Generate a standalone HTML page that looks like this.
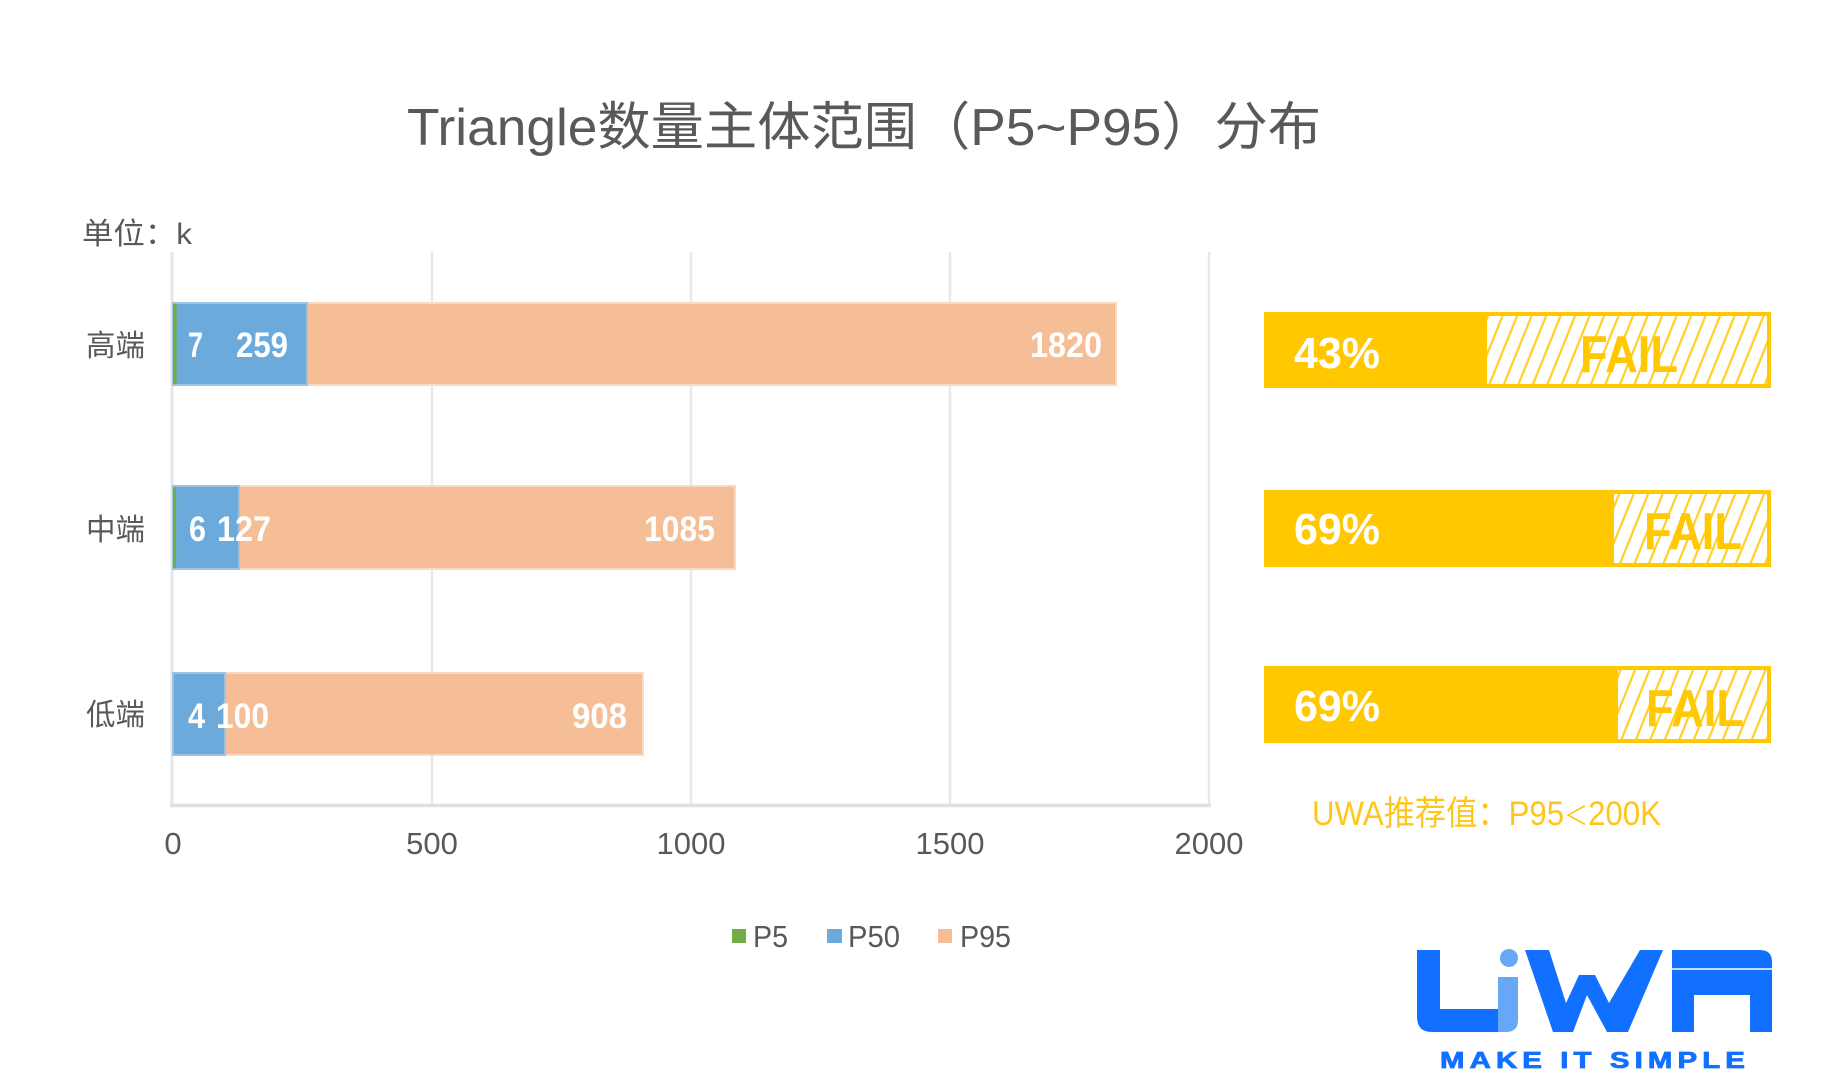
<!DOCTYPE html>
<html>
<head>
<meta charset="utf-8">
<style>
  html,body{margin:0;padding:0;background:#fff;}
  body{width:1830px;height:1090px;overflow:hidden;}
  svg{display:block;}
  .lat{font-family:"Liberation Sans","Noto Sans CJK SC",sans-serif;}
</style>
</head>
<body>
<svg width="1830" height="1090" viewBox="0 0 1830 1090" xmlns="http://www.w3.org/2000/svg">
  <defs>
    <pattern id="hatch" patternUnits="userSpaceOnUse" width="14.5" height="80" patternTransform="skewX(-22)">
      <rect x="0" y="0" width="14.5" height="80" fill="#ffffff"/>
      <rect x="5" y="0" width="2.4" height="80" fill="#FFC800" opacity="0.85"/>
    </pattern>
  </defs>
  <rect width="1830" height="1090" fill="#ffffff"/>

  <!-- Title -->
  <text class="lat" x="407" y="145" font-size="52" fill="#595959" textLength="914" lengthAdjust="spacingAndGlyphs">Triangle数量主体范围（P5~P95）分布</text>

  <!-- Unit -->
  <text class="lat" x="82" y="244" font-size="30" fill="#595959" textLength="110" lengthAdjust="spacingAndGlyphs">单位：k</text>

  <!-- Gridlines -->
  <g stroke="#e8e8e8" stroke-width="2.5">
    <line x1="432" y1="252" x2="432" y2="805"/>
    <line x1="691" y1="252" x2="691" y2="805"/>
    <line x1="950" y1="252" x2="950" y2="805"/>
    <line x1="1209" y1="252" x2="1209" y2="805"/>
  </g>
  <line x1="172" y1="252" x2="172" y2="806" stroke="#e6e6e6" stroke-width="3"/>
  <line x1="170" y1="805.5" x2="1211" y2="805.5" stroke="#e0e0e0" stroke-width="3.5"/>

  <!-- Category labels -->
  <g class="lat" font-size="30" fill="#595959">
    <text x="86" y="356" textLength="59" lengthAdjust="spacingAndGlyphs">高端</text>
    <text x="86" y="540" textLength="59" lengthAdjust="spacingAndGlyphs">中端</text>
    <text x="86" y="725" textLength="59" lengthAdjust="spacingAndGlyphs">低端</text>
  </g>

  <!-- Bars: high -->
  <rect x="173" y="303" width="943" height="82" fill="#F5BE97" stroke="#FAD9C3" stroke-width="2"/>
  <rect x="173" y="303" width="134" height="82" fill="#6CAADC" stroke="#9DC3E2" stroke-width="2"/>
  <rect x="173" y="304" width="3.6" height="80" fill="#70AD47"/>
  <!-- Bars: mid -->
  <rect x="173" y="486" width="562" height="83" fill="#F5BE97" stroke="#FAD9C3" stroke-width="2"/>
  <rect x="173" y="486" width="66" height="83" fill="#6CAADC" stroke="#9DC3E2" stroke-width="2"/>
  <rect x="173" y="487" width="3.1" height="81" fill="#70AD47"/>
  <!-- Bars: low -->
  <rect x="173" y="673" width="470" height="82" fill="#F5BE97" stroke="#FAD9C3" stroke-width="2"/>
  <rect x="173" y="673" width="52" height="82" fill="#6CAADC" stroke="#9DC3E2" stroke-width="2"/>

  <!-- Bar labels -->
  <g class="lat" font-size="35" font-weight="bold" fill="#ffffff">
    <text x="188" y="357" textLength="15" lengthAdjust="spacingAndGlyphs">7</text>
    <text x="236" y="357" textLength="52" lengthAdjust="spacingAndGlyphs">259</text>
    <text x="1030" y="357" textLength="72" lengthAdjust="spacingAndGlyphs">1820</text>

    <text x="189" y="541" textLength="17" lengthAdjust="spacingAndGlyphs">6</text>
    <text x="217" y="541" textLength="54" lengthAdjust="spacingAndGlyphs">127</text>
    <text x="644" y="541" textLength="71" lengthAdjust="spacingAndGlyphs">1085</text>

    <text x="188" y="728" textLength="17" lengthAdjust="spacingAndGlyphs">4</text>
    <text x="216" y="728" textLength="53" lengthAdjust="spacingAndGlyphs">100</text>
    <text x="572" y="728" textLength="55" lengthAdjust="spacingAndGlyphs">908</text>
  </g>

  <!-- X tick labels -->
  <g class="lat" font-size="31" fill="#595959" text-anchor="middle">
    <text x="173" y="854">0</text>
    <text x="432" y="854">500</text>
    <text x="691" y="854">1000</text>
    <text x="950" y="854">1500</text>
    <text x="1209" y="854">2000</text>
  </g>

  <!-- Legend -->
  <rect x="732" y="929" width="14" height="14" fill="#70AD47"/>
  <rect x="827" y="929" width="15" height="14" fill="#6CAADC"/>
  <rect x="938" y="929" width="14" height="14" fill="#F5BE97"/>
  <g class="lat" font-size="31" fill="#595959">
    <text x="753" y="947" textLength="35" lengthAdjust="spacingAndGlyphs">P5</text>
    <text x="848" y="947" textLength="52" lengthAdjust="spacingAndGlyphs">P50</text>
    <text x="960" y="947" textLength="51" lengthAdjust="spacingAndGlyphs">P95</text>
  </g>

  <!-- FAIL box 1 -->
  <rect x="1266" y="314" width="503" height="72" fill="#ffffff" stroke="#FFC800" stroke-width="4"/>
  <rect x="1487" y="316" width="280" height="68" fill="url(#hatch)"/>
  <rect x="1264" y="312" width="223" height="76" fill="#FFC800"/>
  <!-- FAIL box 2 -->
  <rect x="1266" y="492" width="503" height="73" fill="#ffffff" stroke="#FFC800" stroke-width="4"/>
  <rect x="1614" y="494" width="153" height="69" fill="url(#hatch)"/>
  <rect x="1264" y="490" width="350" height="77" fill="#FFC800"/>
  <!-- FAIL box 3 -->
  <rect x="1266" y="668" width="503" height="73" fill="#ffffff" stroke="#FFC800" stroke-width="4"/>
  <rect x="1618" y="670" width="149" height="69" fill="url(#hatch)"/>
  <rect x="1264" y="666" width="354" height="77" fill="#FFC800"/>

  <g class="lat" font-size="44" font-weight="bold" fill="#ffffff">
    <text x="1294" y="368" textLength="86" lengthAdjust="spacingAndGlyphs">43%</text>
    <text x="1294" y="544" textLength="86" lengthAdjust="spacingAndGlyphs">69%</text>
    <text x="1294" y="721" textLength="86" lengthAdjust="spacingAndGlyphs">69%</text>
  </g>
  <g class="lat" font-size="52" font-weight="bold" fill="#FFC800">
    <text x="1580" y="372" textLength="98" lengthAdjust="spacingAndGlyphs">FAIL</text>
    <text x="1644" y="549" textLength="98" lengthAdjust="spacingAndGlyphs">FAIL</text>
    <text x="1646" y="726" textLength="98" lengthAdjust="spacingAndGlyphs">FAIL</text>
  </g>

  <!-- Recommendation -->
  <text class="lat" x="1312" y="825" font-size="34" fill="#FFC61A" textLength="349" lengthAdjust="spacingAndGlyphs">UWA推荐值：P95<tspan font-size="26">＜</tspan>200K</text>

  <!-- Logo -->
  <g fill="#1170FF">
    <path d="M1417,950 H1440 V1009 H1505 V1032 H1432 Q1417,1032 1417,1017 Z"/>
    <polygon points="1525,950 1549,950 1566,1003 1579,975 1595,975 1609,1003 1640,950 1663,950 1628,1032 1607,1032 1587,995 1573,1032 1553,1032"/>
    <path d="M1672,950 H1760 Q1772,950 1772,962 V1032 H1750 V995 H1694 V1032 H1672 Z"/>
  </g>
  <line x1="1672" y1="969" x2="1772" y2="969" stroke="#ffffff" stroke-width="1.5"/>
  <circle cx="1509" cy="958" r="9" fill="#66A8F7"/>
  <path d="M1498,977 H1518 V1020 Q1518,1032 1506,1032 H1498 Z" fill="#66A8F7"/>
  <text class="lat" x="1440" y="1068" font-size="23" font-weight="bold" fill="#1170FF" stroke="#1170FF" stroke-width="0.8" letter-spacing="4" textLength="310" lengthAdjust="spacingAndGlyphs">MAKE IT SIMPLE</text>
</svg>
</body>
</html>
